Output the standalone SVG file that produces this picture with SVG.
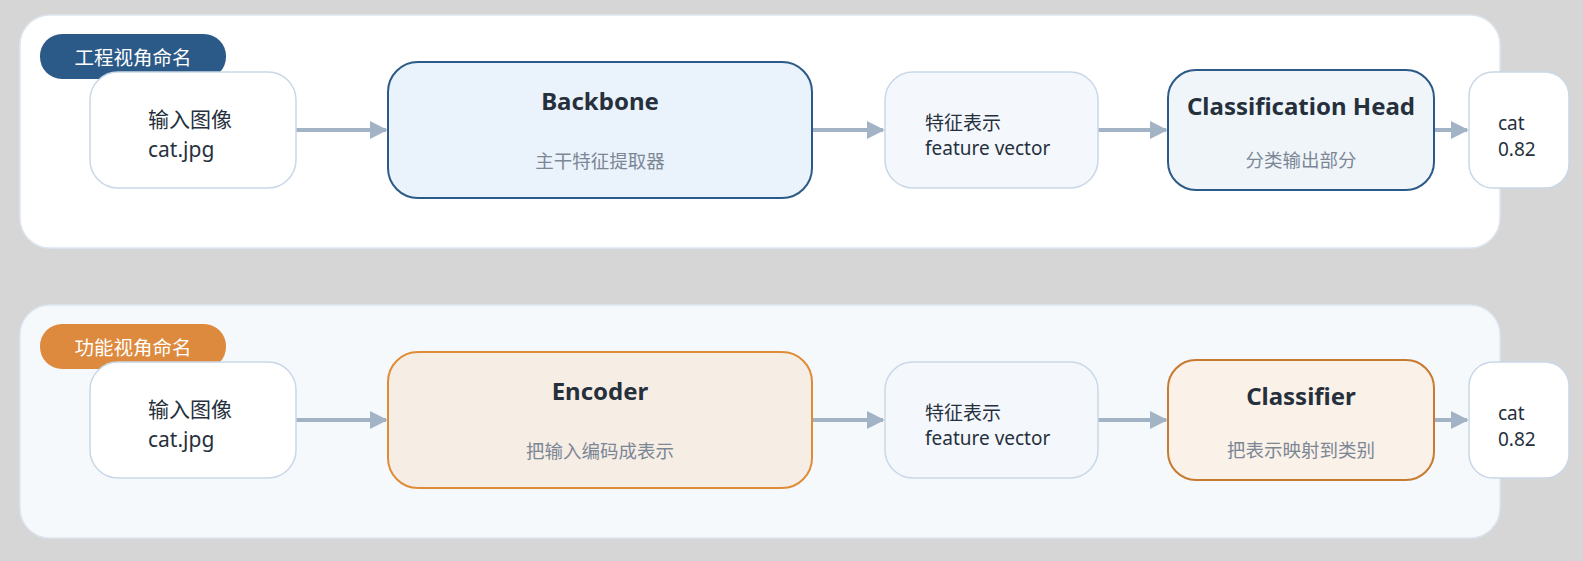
<svg xmlns="http://www.w3.org/2000/svg" width="1583" height="561" viewBox="0 0 1583 561">
<defs>
<style>
text{font-family:"Noto Sans","Noto Sans CJK SC",sans-serif;fill:#26303c}
.badge{fill:#fff;font-size:19.5px;text-anchor:middle}
.lbl{font-size:21px}
.sm{font-size:19px}
.title{font-size:24px;font-weight:bold;text-anchor:middle}
.sub{font-size:18.5px;fill:#7c8796;text-anchor:middle}
.plain{fill:#fff;stroke:#c9d7e6;stroke-width:1.5}
.feat{fill:#f4f8fc;stroke:#c9d7e6;stroke-width:1.5}
.conn line{stroke:#a3b3c6;stroke-width:4}
</style>
<marker id="ah" viewBox="0 0 10 10" refX="9" refY="5" markerWidth="4.5" markerHeight="4.5" orient="auto" markerUnits="strokeWidth"><path d="M0,0L10,5L0,10z" fill="#a3b3c6"/></marker>
</defs>
<rect width="1583" height="561" fill="#d6d6d6"/>
<rect x="20" y="15" width="1480" height="233" rx="30" fill="#fff" stroke="#dde6f0" stroke-width="1.5"/>
<rect x="20" y="305" width="1480" height="233" rx="30" fill="#f5f9fc" stroke="#dde6f0" stroke-width="1.5"/>
<g id="badge1"><rect x="40" y="34" width="186" height="45" rx="22" fill="#2c5a88"/><text class="badge" x="133" y="65">工程视角命名</text></g>
<g id="badge2"><rect x="40" y="324" width="186" height="45" rx="22" fill="#dd8a3e"/><text class="badge" x="133" y="355">功能视角命名</text></g>
<g class="conn">
<line x1="296" y1="130" x2="386" y2="130" marker-end="url(#ah)"/>
<line x1="812" y1="130" x2="883" y2="130" marker-end="url(#ah)"/>
<line x1="1098" y1="130" x2="1166" y2="130" marker-end="url(#ah)"/>
<line x1="1434" y1="130" x2="1467" y2="130" marker-end="url(#ah)"/>
<line x1="296" y1="420" x2="386" y2="420" marker-end="url(#ah)"/>
<line x1="812" y1="420" x2="883" y2="420" marker-end="url(#ah)"/>
<line x1="1098" y1="420" x2="1166" y2="420" marker-end="url(#ah)"/>
<line x1="1434" y1="420" x2="1467" y2="420" marker-end="url(#ah)"/>
</g>
<g id="input1"><rect class="plain" x="90" y="72" width="206" height="116" rx="28"/><text class="lbl" x="148" y="127">输入图像</text><text class="lbl" x="148" y="157">cat.jpg</text></g>
<g id="backbone"><rect x="388" y="62" width="424" height="136" rx="30" fill="#eaf2fb" stroke="#2c5a88" stroke-width="2"/><text class="title" x="600" y="110">Backbone</text><text class="sub" x="600" y="168">主干特征提取器</text></g>
<g id="feat1"><rect class="feat" x="885" y="72" width="213" height="116" rx="28"/><text class="sm" x="925" y="130">特征表示</text><text class="sm" x="925" y="155">feature vector</text></g>
<g id="head"><rect x="1168" y="70" width="266" height="120" rx="28" fill="#f0f5fa" stroke="#2c5a88" stroke-width="2"/><text class="title" x="1301" y="115">Classification Head</text><text class="sub" x="1301" y="167">分类输出部分</text></g>
<g id="out1"><rect class="plain" x="1469" y="72" width="100" height="116" rx="24"/><text class="sm" x="1498" y="130">cat</text><text class="sm" x="1498" y="156">0.82</text></g>
<g id="input2"><rect class="plain" x="90" y="362" width="206" height="116" rx="28"/><text class="lbl" x="148" y="417">输入图像</text><text class="lbl" x="148" y="447">cat.jpg</text></g>
<g id="encoder"><rect x="388" y="352" width="424" height="136" rx="30" fill="#f6ede4" stroke="#df8c3a" stroke-width="2"/><text class="title" x="600" y="400">Encoder</text><text class="sub" x="600" y="458">把输入编码成表示</text></g>
<g id="feat2"><rect class="feat" x="885" y="362" width="213" height="116" rx="28"/><text class="sm" x="925" y="420">特征表示</text><text class="sm" x="925" y="445">feature vector</text></g>
<g id="classifier"><rect x="1168" y="360" width="266" height="120" rx="28" fill="#faf1e8" stroke="#c77a30" stroke-width="2"/><text class="title" x="1301" y="405">Classifier</text><text class="sub" x="1301" y="457">把表示映射到类别</text></g>
<g id="out2"><rect class="plain" x="1469" y="362" width="100" height="116" rx="24"/><text class="sm" x="1498" y="420">cat</text><text class="sm" x="1498" y="446">0.82</text></g>
</svg>
